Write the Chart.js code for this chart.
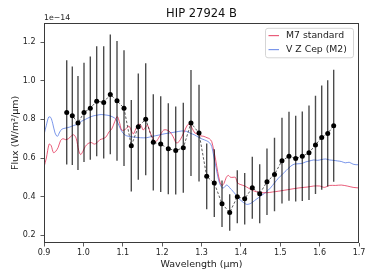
<!DOCTYPE html>
<html><head><meta charset="utf-8">
<script src="https://cdn.jsdelivr.net/npm/chart.js@4/dist/chart.umd.min.js"></script>
<style>html,body{margin:0;padding:0;background:#fff;}#wrap{width:374px;height:280px;}</style>
</head><body><div id="wrap"><canvas id="c" width="374" height="280"></canvas></div>
<script>
// Flux values are in units of 1e-14 W/m^2/um
const obsWave = [0.9577,0.9719,0.9863,1.0016,1.0176,1.0338,1.0516,1.0684,1.0854,1.1032,1.1217,1.1395,1.1583,1.1776,1.1964,1.2157,1.2345,1.2538,1.2733,1.2937,1.3132,1.3325,1.3521,1.3716,1.3909,1.4097,1.4290,1.4478,1.4663,1.4854,1.5044,1.5222,1.5392,1.5560,1.5730,1.5895,1.6053,1.6205,1.6357];
const obsFlux = [0.836,0.819,0.781,0.836,0.858,0.894,0.888,0.929,0.896,0.858,0.663,0.762,0.801,0.681,0.672,0.648,0.639,0.653,0.781,0.729,0.505,0.470,0.363,0.318,0.399,0.389,0.446,0.415,0.477,0.515,0.586,0.609,0.597,0.609,0.627,0.668,0.706,0.727,0.767];
const obsErr = [0.27,0.255,0.243,0.257,0.267,0.285,0.29,0.31,0.31,0.30,0.237,0.275,0.29,0.249,0.248,0.235,0.228,0.233,0.274,0.25,0.17,0.175,0.12,0.095,0.137,0.133,0.16,0.153,0.172,0.19,0.222,0.23,0.222,0.232,0.245,0.254,0.27,0.275,0.29];

const m7Wave = [0.900,0.906,0.913,0.918,0.924,0.930,0.936,0.942,0.948,0.955,0.962,0.970,0.976,0.982,0.988,0.993,0.999,1.005,1.012,1.020,1.028,1.035,1.042,1.050,1.058,1.065,1.072,1.080,1.086,1.091,1.097,1.104,1.110,1.116,1.122,1.127,1.133,1.140,1.146,1.152,1.158,1.163,1.170,1.177,1.184,1.190,1.197,1.204,1.212,1.220,1.228,1.236,1.243,1.250,1.257,1.264,1.270,1.276,1.283,1.290,1.298,1.306,1.314,1.320,1.326,1.331,1.336,1.341,1.347,1.352,1.357,1.363,1.368,1.374,1.380,1.386,1.392,1.400,1.410,1.420,1.430,1.440,1.450,1.465,1.480,1.495,1.510,1.525,1.540,1.555,1.570,1.585,1.600,1.612,1.625,1.640,1.655,1.670,1.685,1.700];
const m7Flux = [0.553,0.60,0.672,0.665,0.628,0.635,0.655,0.69,0.70,0.695,0.70,0.715,0.72,0.70,0.64,0.618,0.635,0.66,0.675,0.68,0.672,0.68,0.695,0.70,0.71,0.735,0.75,0.79,0.815,0.79,0.745,0.745,0.755,0.765,0.74,0.725,0.75,0.775,0.77,0.745,0.76,0.77,0.73,0.70,0.685,0.70,0.725,0.745,0.745,0.735,0.71,0.678,0.685,0.71,0.74,0.77,0.775,0.755,0.73,0.725,0.715,0.712,0.705,0.70,0.685,0.64,0.59,0.53,0.475,0.458,0.468,0.50,0.51,0.50,0.50,0.50,0.47,0.462,0.455,0.443,0.432,0.425,0.422,0.42,0.424,0.428,0.433,0.438,0.443,0.447,0.45,0.455,0.455,0.448,0.458,0.458,0.46,0.455,0.448,0.445];

const vzWave = [0.900,0.906,0.912,0.917,0.922,0.928,0.934,0.940,0.946,0.955,0.965,0.975,0.985,0.995,1.005,1.015,1.025,1.035,1.045,1.055,1.065,1.075,1.083,1.090,1.097,1.105,1.115,1.130,1.145,1.160,1.175,1.190,1.205,1.220,1.235,1.250,1.262,1.272,1.282,1.292,1.302,1.312,1.320,1.326,1.331,1.337,1.343,1.348,1.353,1.358,1.363,1.368,1.374,1.380,1.387,1.395,1.405,1.415,1.425,1.435,1.445,1.455,1.465,1.475,1.485,1.495,1.505,1.515,1.525,1.535,1.545,1.555,1.565,1.575,1.585,1.595,1.605,1.615,1.625,1.635,1.645,1.655,1.665,1.675,1.685,1.695,1.700];
const vzFlux = [0.72,0.77,0.812,0.81,0.78,0.73,0.712,0.735,0.75,0.755,0.76,0.768,0.775,0.79,0.80,0.81,0.818,0.822,0.825,0.823,0.82,0.812,0.80,0.77,0.74,0.72,0.712,0.708,0.705,0.705,0.712,0.718,0.725,0.73,0.735,0.74,0.738,0.728,0.72,0.708,0.698,0.69,0.68,0.66,0.61,0.55,0.49,0.46,0.445,0.448,0.46,0.455,0.44,0.428,0.41,0.39,0.372,0.36,0.365,0.38,0.395,0.41,0.425,0.445,0.47,0.495,0.515,0.535,0.555,0.568,0.57,0.572,0.58,0.585,0.59,0.588,0.592,0.595,0.59,0.588,0.585,0.582,0.575,0.578,0.568,0.565,0.566];

const xTickValues = [0.9,1.0,1.1,1.2,1.3,1.4,1.5,1.6,1.7];
const yTickValues = [0.2,0.4,0.6,0.8,1.0,1.2];
const seriesLabels = ['M7 standard','V Z Cep (M2)'];
const titleText = 'HIP 27924 B';
const xTitle = 'Wavelength (μm)';
const yTitle = 'Flux (W/m²/μm)';
const offsetText = '1e\u221214';

const FONT = "'DejaVu Sans', sans-serif";

const errData = [];
obsWave.forEach((w,i)=>{ errData.push({x:w,y:obsFlux[i]-obsErr[i]},{x:w,y:obsFlux[i]+obsErr[i]},{x:w,y:null}); });

const framePlugin = {
  id:'frame',
  afterDraw(chart){
    const {ctx, chartArea:a} = chart;
    ctx.save();
    ctx.strokeStyle='#3a3a3a'; ctx.lineWidth=1;
    ctx.strokeRect(Math.round(a.left)+0.5, Math.round(a.top)+0.5, Math.round(a.right-a.left)-1, Math.round(a.bottom-a.top)-1);
    ctx.fillStyle='#222'; ctx.font='7.8px '+FONT; ctx.textAlign='left'; ctx.textBaseline='middle';
    ctx.fillText(offsetText, a.left, a.top-5);
    const w=88,h=29.5; const x=a.right-6-w, y=a.top+5;
    ctx.fillStyle='rgba(255,255,255,0.85)'; ctx.strokeStyle='#d5d5d5'; ctx.lineWidth=1;
    ctx.beginPath(); ctx.roundRect(x+0.5,y+0.5,w,h,2.5); ctx.fill(); ctx.stroke();
    const items=[chart.data.datasets[2],chart.data.datasets[3]];
    items.forEach((ds,k)=>{
      const yy=y+7.8+k*14;
      ctx.strokeStyle=ds.borderColor; ctx.lineWidth=1.2;
      ctx.beginPath(); ctx.moveTo(x+3.5,yy); ctx.lineTo(x+14,yy); ctx.stroke();
      ctx.fillStyle='#222'; ctx.font='9.3px '+FONT; ctx.textBaseline='middle';
      ctx.fillText(ds.label, x+21, yy);
    });
    ctx.restore();
  }
};

new Chart(document.getElementById('c'), {
  type:'scatter',
  data:{datasets:[
    {label:'data', data:obsWave.map((w,i)=>({x:w,y:obsFlux[i]})), showLine:true, borderColor:'rgba(40,40,40,0.85)', borderWidth:0.9, borderDash:[2.5,1.8], pointRadius:2.5, pointBackgroundColor:'#000', pointBorderColor:'#000', pointBorderWidth:0},
    {label:'err', data:errData, showLine:true, spanGaps:false, borderColor:'rgba(0,0,0,0.7)', borderWidth:1.4, pointRadius:0},
    {label:seriesLabels[0], data:m7Wave.map((w,i)=>({x:w,y:m7Flux[i]})), showLine:true, borderColor:'rgba(225,30,70,0.72)', borderWidth:1, pointRadius:0, tension:0.3},
    {label:seriesLabels[1], data:vzWave.map((w,i)=>({x:w,y:vzFlux[i]})), showLine:true, borderColor:'rgba(65,105,225,0.7)', borderWidth:1, pointRadius:0, tension:0.3}
  ]},
  options:{
    responsive:false, animation:false, devicePixelRatio:1, events:[],
    layout:{padding:{left:0,right:15,top:0,bottom:0}},
    plugins:{
      legend:{display:false}, tooltip:{enabled:false},
      title:{display:true, text:titleText, fullSize:false, color:'#111', font:{family:FONT,size:11.5,weight:'normal'}, padding:{top:7,bottom:2}}
    },
    scales:{
      x:{type:'linear', min:0.9, max:1.7,
        afterBuildTicks(s){ s.ticks = xTickValues.map(v=>({value:v})); },
        afterFit(s){ s.height = 37; },
        ticks:{autoSkip:false, maxRotation:0, padding:2, color:'#222', font:{family:FONT,size:8}, callback:v=>Number(v).toFixed(1)},
        grid:{display:true, drawOnChartArea:false, drawTicks:true, tickLength:3.5, tickColor:'#333', tickWidth:0.8},
        border:{display:false},
        title:{display:true, text:xTitle, color:'#222', font:{family:FONT,size:9.5}, padding:{top:0,bottom:10}}
      },
      y:{type:'linear', min:0.16, max:1.3,
        afterBuildTicks(s){ s.ticks = yTickValues.map(v=>({value:v})); },
        afterFit(s){ s.width = 44; },
        ticks:{autoSkip:false, padding:5, color:'#222', font:{family:FONT,size:8}, callback:v=>Number(v).toFixed(1)},
        grid:{display:true, drawOnChartArea:false, drawTicks:true, tickLength:3.5, tickColor:'#333', tickWidth:0.8},
        border:{display:false},
        title:{display:true, text:yTitle, color:'#222', font:{family:FONT,size:9.5}, padding:{top:10,bottom:0}}
      }
    }
  },
  plugins:[framePlugin]
});
</script></body></html>
